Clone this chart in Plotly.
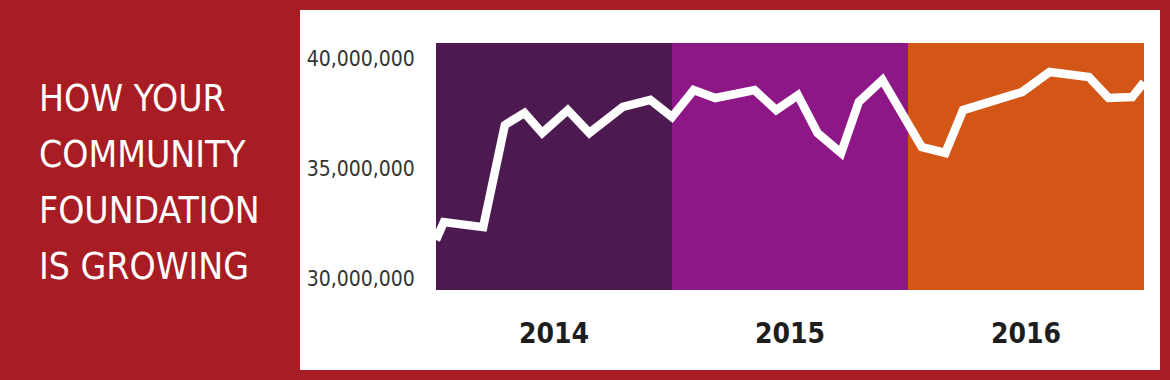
import plotly.graph_objects as go

# Month index (0 = start of 2014) and fund balance (USD)
months = [0, 0.4, 2.4, 3.5, 4.5, 5.4, 6.7, 7.8, 9.5, 10.9, 12.0, 13.1, 14.2, 16.2,
          17.3, 18.4, 19.4, 20.6, 21.5, 22.7, 24.7, 25.9, 26.8, 29.8, 31.2, 33.2,
          34.2, 35.4, 36.0]
values_m = [31.77, 32.59, 32.36, 37.0, 37.55, 36.64, 37.68, 36.64, 37.82, 38.14,
            37.36, 38.59, 38.23, 38.59, 37.68, 38.36, 36.64, 35.73, 38.05, 39.05,
            36.0, 35.73, 37.68, 38.5, 39.41, 39.18, 38.23, 38.27, 38.95]
values = [v * 1e6 for v in values_m]

years = ["2014", "2015", "2016"]
year_start = [0, 12, 24]
year_end = [12, 24, 36]
year_colors = ["#4C1A50", "#8E1788", "#D35616"]

y_ticks = [30e6, 35e6, 40e6]
title_lines = ["HOW YOUR", "COMMUNITY", "FOUNDATION", "IS GROWING"]

FONT = "DejaVu Sans Condensed, Roboto, sans-serif"

W, H = 1170, 380
L, R, T, B = 436, 26, 43, 90
PW, PH = W - L - R, H - T - B


def px(xp):
    return (xp - L) / PW


def py(yp):
    return (H - B - yp) / PH


fig = go.Figure()
fig.add_trace(go.Scatter(x=months, y=values, mode="lines",
                         line=dict(color="white", width=8.5), hoverinfo="skip",
                         showlegend=False))

shapes = [dict(type="rect", xref="paper", yref="paper", x0=px(300), x1=px(1160),
               y0=py(370), y1=py(10), fillcolor="white", line=dict(width=0),
               layer="below")]
for s, e, c in zip(year_start, year_end, year_colors):
    shapes.append(dict(type="rect", xref="x", yref="paper", x0=s, x1=e, y0=0, y1=1,
                       fillcolor=c, line=dict(width=0), layer="below"))

annotations = []
centers = [98, 154, 210, 266]
for t, c in zip(title_lines, centers):
    annotations.append(dict(text=t, xref="paper", yref="paper", x=px(37), y=py(c),
                            xanchor="left", yanchor="middle", showarrow=False,
                            font=dict(family=FONT, size=37, color="white")))

fig.update_layout(
    width=W, height=H,
    margin=dict(l=L, r=R, t=T, b=B),
    paper_bgcolor="#A81C24",
    plot_bgcolor="white",
    shapes=shapes,
    annotations=annotations,
    xaxis=dict(range=[0, 36], tickvals=[(s + e) / 2 for s, e in zip(year_start, year_end)],
               ticktext=years, showgrid=False, zeroline=False, ticks="outside",
               ticklen=18, tickcolor="rgba(0,0,0,0)",
               tickfont=dict(family=FONT, size=28, color="#1E1E1E", weight="bold")),
    yaxis=dict(range=[29.5e6, 40.73e6], tickvals=y_ticks, tickformat=",d",
               showgrid=False, zeroline=False, ticks="outside", ticklen=16,
               tickcolor="rgba(0,0,0,0)",
               tickfont=dict(family=FONT, size=21, color="#333333")),
)

fig.write_html("out.html", config={"displayModeBar": False},
               post_script="document.body.style.margin='0';document.body.style.padding='0';")
